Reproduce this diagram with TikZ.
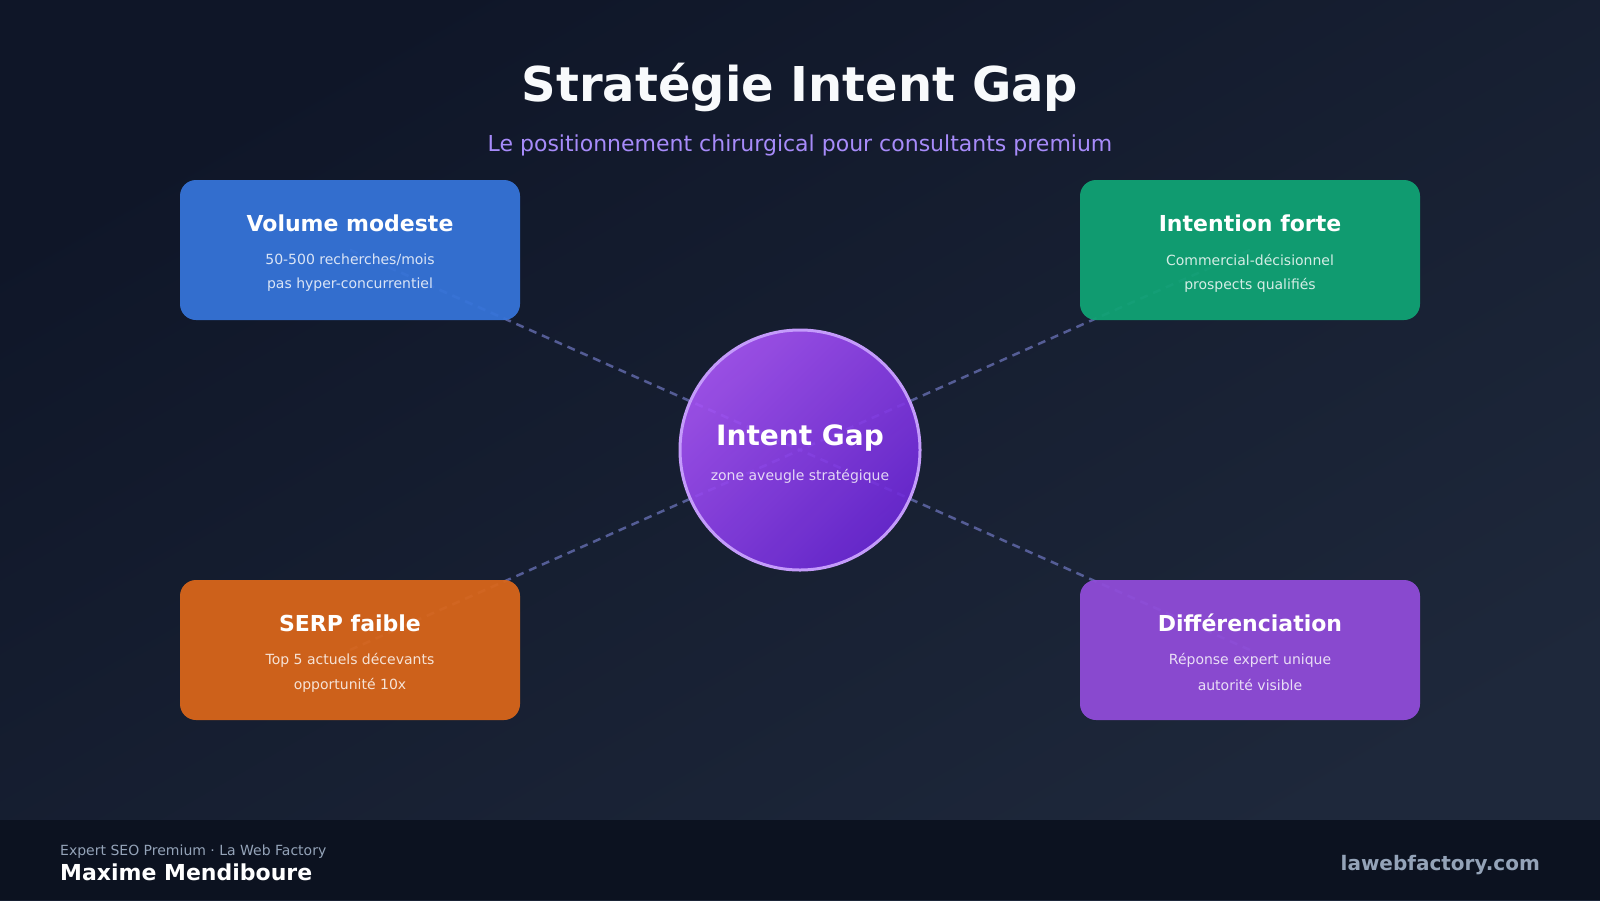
\documentclass[tikz,border=0pt]{standalone}
\usepackage{fontspec}
\setmainfont{DejaVu Sans}
\usetikzlibrary{backgrounds}
\definecolor{bgA}{HTML}{0F1628}
\definecolor{bgB}{HTML}{1E283B}
\definecolor{footbg}{HTML}{0C1220}
\definecolor{titlecol}{HTML}{F8FAFC}
\definecolor{subcol}{HTML}{A78BFA}
\definecolor{bluebox}{HTML}{3674D9}
\definecolor{greenbox}{HTML}{10A374}
\definecolor{orangebox}{HTML}{D9661A}
\definecolor{purplebox}{HTML}{904CD9}
\definecolor{circA}{HTML}{A855F7}
\definecolor{circB}{HTML}{6D28D9}
\definecolor{circline}{HTML}{C49BFB}
\definecolor{dashcol}{HTML}{6A72B8}
\definecolor{graytext}{HTML}{94A3B8}
\pgfdeclarelayer{bg}
\pgfsetlayers{bg,background,main}
\tikzset{
  card/.style={rounded corners=16pt, minimum width=340pt, minimum height=140pt, inner sep=0pt, fill opacity=0.94},
  cardtitle/.style={text=white, font=\bfseries\fontsize{22}{26}\selectfont, inner sep=0pt},
  cardsub/.style={text=white, text opacity=0.82, font=\fontsize{14}{17}\selectfont, inner sep=0pt},
  linkline/.style={draw=dashcol, line width=2.5pt, dash pattern=on 8pt off 6pt, opacity=0.75},
}
\begin{document}
\begin{tikzpicture}[x=1pt,y=-1pt]
\useasboundingbox (0,0) rectangle (1600,900);
\begin{pgfonlayer}{bg}
  \shade[shading=axis, top color=bgA, bottom color=bgB, shading angle=30] (0,0) rectangle (1600,900);
  \fill[footbg] (0,820) rectangle (1600,900);
\end{pgfonlayer}

% title
\node[text=titlecol, font=\bfseries\fontsize{48}{56}\selectfont, inner sep=0pt] (title) at (800,87) {Stratégie Intent Gap};
\node[text=subcol, font=\fontsize{22}{26}\selectfont, inner sep=0pt] (subtitle) at (800,145) {Le positionnement chirurgical pour consultants premium};

% cards
\node[card, fill=bluebox] (vol) at (350,250) {};
\node[card, fill=greenbox] (int) at (1250,250) {};
\node[card, fill=orangebox] (serp) at (350,650) {};
\node[card, fill=purplebox] (diff) at (1250,650) {};

\node[cardtitle] (volT) at (350,223) {Volume modeste};
\node[cardsub] (volA) at (350,260) {50-500 recherches/mois};
\node[cardsub] (volB) at (350,285) {pas hyper-concurrentiel};

\node[cardtitle] (intT) at (1250,223) {Intention forte};
\node[cardsub] (intA) at (1250,260) {Commercial-décisionnel};
\node[cardsub] (intB) at (1250,285) {prospects qualifiés};

\node[cardtitle] (serpT) at (350,623) {SERP faible};
\node[cardsub] (serpA) at (350,660) {Top 5 actuels décevants};
\node[cardsub] (serpB) at (350,685) {opportunité 10x};

\node[cardtitle] (diffT) at (1250,623) {Différenciation};
\node[cardsub] (diffA) at (1250,660) {Réponse expert unique};
\node[cardsub] (diffB) at (1250,685) {autorité visible};

% center circle
\node[circle, minimum size=240pt, inner sep=0pt, draw=circline, line width=3pt,
      top color=circA, bottom color=circB, shading angle=45, fill opacity=0.9] (gap) at (800,450) {};
\node[text=white, font=\bfseries\fontsize{28}{32}\selectfont, inner sep=0pt] (gapT) at (800,438) {Intent Gap};
\node[text=white, text opacity=0.8, font=\fontsize{14}{17}\selectfont, inner sep=0pt] (gapS) at (800,476) {zone aveugle stratégique};

% connectors
\begin{pgfonlayer}{background}
  \draw[linkline] (vol.center) -- (gap.center);
  \draw[linkline] (int.center) -- (gap.center);
  \draw[linkline] (serp.center) -- (gap.center);
  \draw[linkline] (diff.center) -- (gap.center);
\end{pgfonlayer}

% footer
\node[anchor=west, text=graytext, font=\fontsize{14}{17}\selectfont, inner sep=0pt] (footA) at (60,852) {Expert SEO Premium · La Web Factory};
\node[anchor=west, text=white, font=\bfseries\fontsize{22}{26}\selectfont, inner sep=0pt] (footB) at (60,872) {Maxime Mendiboure};
\node[anchor=east, text=graytext, font=\bfseries\fontsize{20}{24}\selectfont, inner sep=0pt] (footC) at (1540,865) {lawebfactory.com};
\end{tikzpicture}
\end{document}
